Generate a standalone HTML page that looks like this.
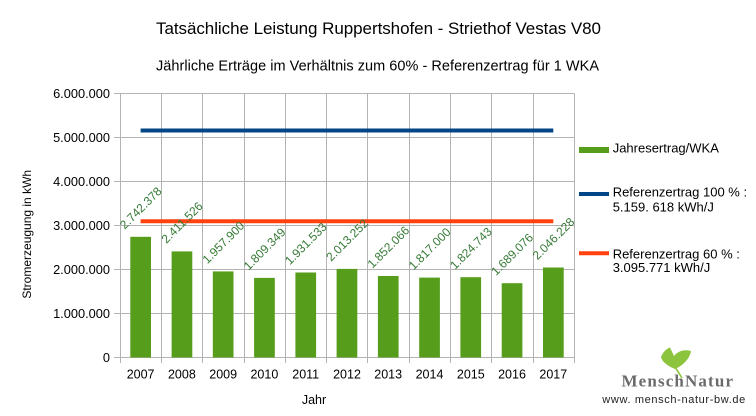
<!DOCTYPE html>
<html><head><meta charset="utf-8"><style>
html,body{margin:0;padding:0;background:#fff;}
svg{display:block;}
text{font-family:"Liberation Sans",sans-serif;}
</style></head><body>
<svg width="756" height="416" viewBox="0 0 756 416" xmlns="http://www.w3.org/2000/svg">
<rect width="756" height="416" fill="#fff"/>
<text x="378.5" y="34" font-size="17" text-anchor="middle" fill="#000" textLength="445">Tatsächliche Leistung Ruppertshofen - Striethof Vestas V80</text>
<text x="377.5" y="70.5" font-size="14.5" text-anchor="middle" fill="#000" textLength="443">Jährliche Erträge im Verhältnis zum 60% - Referenzertrag für 1 WKA</text>

<g stroke="#b3b3b3" stroke-width="1" fill="none">
<path d="M114 93.5H574.5M114 137.5H574.5M114 181.5H574.5M114 225.5H574.5M114 269.5H574.5M114 313.5H574.5M114 357.5H574.5"/>
<path d="M120.5 93.5V363M161.5 93.5V363M202.5 93.5V363M244.5 93.5V363M285.5 93.5V363M326.5 93.5V363M367.5 93.5V363M409.5 93.5V363M450.5 93.5V363M491.5 93.5V363M533.5 93.5V363M574.5 93.5V363"/>
</g>

<g font-size="12.8" fill="#000" text-anchor="end">
<text x="110" y="98">6.000.000</text>
<text x="110" y="142">5.000.000</text>
<text x="110" y="186">4.000.000</text>
<text x="110" y="230">3.000.000</text>
<text x="110" y="274">2.000.000</text>
<text x="110" y="318">1.000.000</text>
<text x="110" y="362">0</text>
</g>

<text transform="translate(31,234.3) rotate(-90)" font-size="12" text-anchor="middle" fill="#000">Stromerzeugung in kWh</text>

<g fill="#579d1c">
<rect x="130.3" y="236.8" width="20.7" height="120.7"/>
<rect x="171.6" y="251.4" width="20.7" height="106.1"/>
<rect x="212.8" y="271.4" width="20.7" height="86.1"/>
<rect x="254.1" y="277.9" width="20.7" height="79.6"/>
<rect x="295.4" y="272.5" width="20.7" height="85.0"/>
<rect x="336.6" y="268.9" width="20.7" height="88.6"/>
<rect x="377.9" y="276.0" width="20.7" height="81.5"/>
<rect x="419.2" y="277.6" width="20.7" height="79.9"/>
<rect x="460.4" y="277.2" width="20.7" height="80.3"/>
<rect x="501.7" y="283.2" width="20.7" height="74.3"/>
<rect x="543.0" y="267.5" width="20.7" height="90.0"/>
</g>

<line x1="140.6" y1="130.5" x2="553.3" y2="130.5" stroke="#004586" stroke-width="4"/>
<line x1="140.6" y1="221.3" x2="553.3" y2="221.3" stroke="#ff420e" stroke-width="4"/>

<g font-size="12" fill="#357a35" text-anchor="middle">
<text transform="translate(140.6,207.8) rotate(-45)" y="4.3">2.742.378</text>
<text transform="translate(181.9,222.4) rotate(-45)" y="4.3">2.411.526</text>
<text transform="translate(223.2,242.4) rotate(-45)" y="4.3">1.957.900</text>
<text transform="translate(264.4,248.9) rotate(-45)" y="4.3">1.809.349</text>
<text transform="translate(305.7,243.5) rotate(-45)" y="4.3">1.931.533</text>
<text transform="translate(347.0,239.9) rotate(-45)" y="4.3">2.013.252</text>
<text transform="translate(388.2,247.0) rotate(-45)" y="4.3">1.852.066</text>
<text transform="translate(429.5,248.6) rotate(-45)" y="4.3">1.817.000</text>
<text transform="translate(470.8,248.2) rotate(-45)" y="4.3">1.824.743</text>
<text transform="translate(512.0,254.2) rotate(-45)" y="4.3">1.689.076</text>
<text transform="translate(553.3,238.5) rotate(-45)" y="4.3">2.046.228</text>
</g>

<g font-size="12.5" fill="#000" text-anchor="middle">
<text x="140.6" y="378.3">2007</text>
<text x="181.9" y="378.3">2008</text>
<text x="223.2" y="378.3">2009</text>
<text x="264.4" y="378.3">2010</text>
<text x="305.7" y="378.3">2011</text>
<text x="347.0" y="378.3">2012</text>
<text x="388.2" y="378.3">2013</text>
<text x="429.5" y="378.3">2014</text>
<text x="470.8" y="378.3">2015</text>
<text x="512.0" y="378.3">2016</text>
<text x="553.3" y="378.3">2017</text>
<text x="314" y="404">Jahr</text>
</g>

<rect x="579" y="147" width="30" height="6" fill="#579d1c"/>
<line x1="579" y1="194" x2="609" y2="194" stroke="#004586" stroke-width="4"/>
<line x1="579" y1="253.3" x2="609" y2="253.3" stroke="#ff420e" stroke-width="4"/>
<g font-size="13" fill="#000">
<text x="612.7" y="152.7">Jahresertrag/WKA</text>
<text x="612.7" y="196.7">Referenzertrag 100 % :</text>
<text x="612.7" y="211.7">5.159. 618 kWh/J</text>
<text x="612.7" y="258.4">Referenzertrag 60 % :</text>
<text x="612.7" y="272">3.095.771 kWh/J</text>
</g>

<path d="M675,369 C668,366 662,362 661,357 C663,352 666,349 670,347.5 L674,356 C678,351 684,349 691,351 C690,358 684,365 675,369 Z" fill="#8cc43e"/>
<path d="M675,367 Q679,373 682,378" stroke="#8cc43e" stroke-width="1.6" fill="none"/>
<text x="621.5" y="386.7" style="font-family:'Liberation Serif',serif;font-weight:bold" font-size="17" fill="#6b6b6b" textLength="111.5">MenschNatur</text>
<text x="602.3" y="403" font-size="11" fill="#222" textLength="143">www. mensch-natur-bw.de</text>
</svg>
</body></html>
